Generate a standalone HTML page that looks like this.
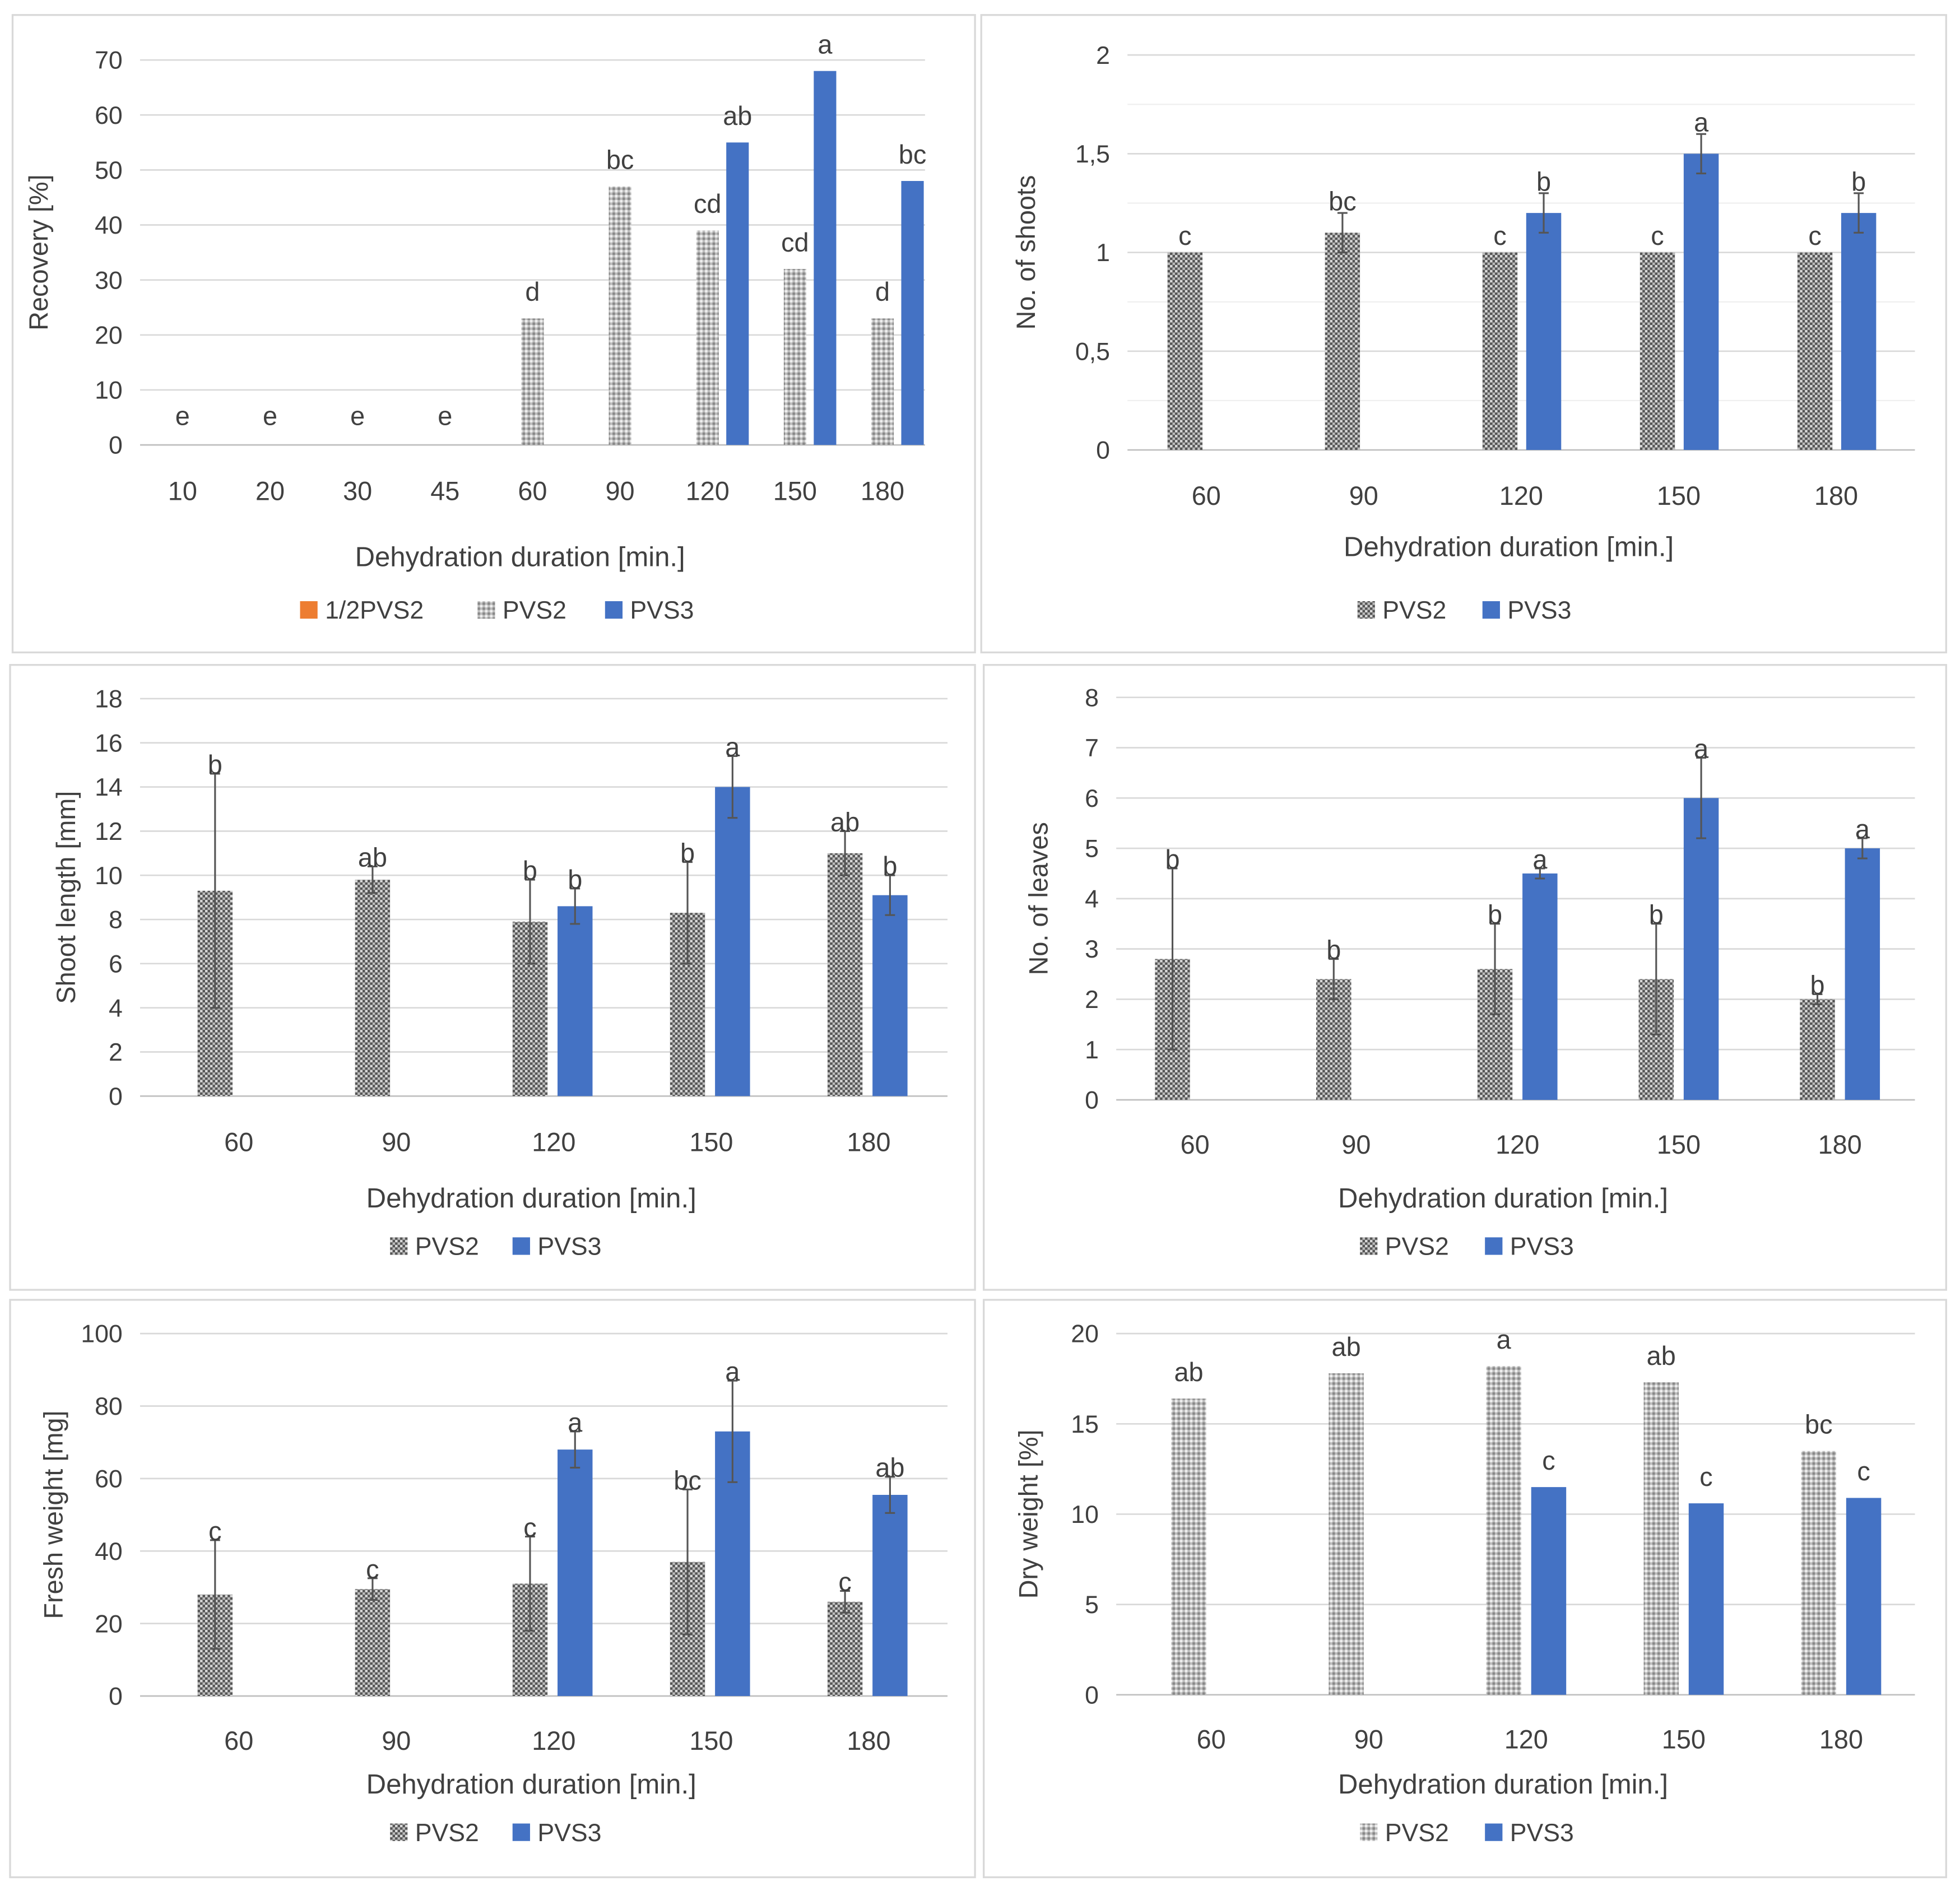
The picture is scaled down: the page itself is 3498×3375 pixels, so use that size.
<!DOCTYPE html>
<html><head><meta charset="utf-8"><style>
html,body{margin:0;padding:0;background:#fff}
svg{display:block}
text{font-family:"Liberation Sans",sans-serif;fill:#404040}
</style></head><body>
<svg id="svg" width="3498" height="3375" viewBox="0 0 1568 1513" xmlns="http://www.w3.org/2000/svg">
<defs>
<pattern id="pd" width="4" height="4" patternUnits="userSpaceOnUse"><rect width="4" height="4" fill="#555"/><rect width="2" height="2" fill="#d8d8d8"/><rect x="2" y="2" width="2" height="2" fill="#bbb"/></pattern>
<pattern id="pl" width="4" height="4" patternUnits="userSpaceOnUse"><rect width="4" height="4" fill="#bdbdbd"/><rect width="2" height="2" fill="#eee"/><rect x="2" y="2" width="2" height="2" fill="#888"/></pattern>
</defs>
</svg>
<script>
const recCats=["10","20","30","45","60","90","120","150","180"];
const recPVS2=[null,null,null,null,23,47,39,32,23];
const recPVS3=[null,null,null,null,null,null,55,68,48];
const recL2=["e","e","e","e","d","bc","cd","cd","d"];
const recL3=["","","","","","","ab","a","bc"];
const recTicks=[0,10,20,30,40,50,60,70];

const cats5=["60","90","120","150","180"];
const shootPVS2=[1,1.1,1,1,1];
const shootPVS2Err=[0,0.1,0,0,0];
const shootPVS3=[null,null,1.2,1.5,1.2];
const shootPVS3Err=[0,0,0.1,0.1,0.1];
const shootL2=["c","bc","c","c","c"];
const shootL3=["","","b","a","b"];
const shootTicks=[0,0.5,1,1.5,2];

const lenPVS2=[9.3,9.8,7.9,8.3,11];
const lenPVS2Err=[5.3,0.6,1.9,2.3,1];
const lenPVS3=[null,null,8.6,14,9.1];
const lenPVS3Err=[0,0,0.8,1.4,0.9];
const lenL2=["b","ab","b","b","ab"];
const lenL3=["","","b","a","b"];
const lenTicks=[0,2,4,6,8,10,12,14,16,18];

const leafPVS2=[2.8,2.4,2.6,2.4,2];
const leafPVS2Err=[1.8,0.4,0.9,1.1,0.1];
const leafPVS3=[null,null,4.5,6,5];
const leafPVS3Err=[0,0,0.1,0.8,0.2];
const leafL2=["b","b","b","b","b"];
const leafL3=["","","a","a","a"];
const leafTicks=[0,1,2,3,4,5,6,7,8];

const fwPVS2=[28,29.5,31,37,26];
const fwPVS2Err=[15,3,13,20,3];
const fwPVS3=[null,null,68,73,55.5];
const fwPVS3Err=[0,0,5,14,5];
const fwL2=["c","c","c","bc","c"];
const fwL3=["","","a","a","ab"];
const fwTicks=[0,20,40,60,80,100];

const dwPVS2=[16.4,17.8,18.2,17.3,13.5];
const dwPVS3=[null,null,11.5,10.6,10.9];
const dwL2=["ab","ab","a","ab","bc"];
const dwL3=["","","c","c","c"];
const dwTicks=[0,5,10,15,20];

const svg=document.getElementById('svg');
const NS="http://www.w3.org/2000/svg";
function mk(tag,attrs,parent){const e=document.createElementNS(NS,tag);for(const k in attrs)e.setAttribute(k,attrs[k]);(parent||svg).appendChild(e);return e;}
function tx(x,y,s,size,parent,anchor,rot){const e=mk('text',{x:x,y:y,'font-size':size,'text-anchor':anchor||'middle'},parent);if(rot)e.setAttribute('transform','rotate(-90 '+x+' '+y+')');e.textContent=s;return e;}

function chart(o){
  const g=mk('g',{});
  
  
  const box=mk('rect',{x:o.bx,y:o.by,width:o.bw,height:o.bh,fill:'none',stroke:'#d9d9d9','stroke-width':1.5},g);
  
  
  const tmax=o.ticks[o.ticks.length-1];
  const Y=v=>o.y0+(o.yT-o.y0)*v/tmax;
  const X=i=>o.c0+o.step*i;
  const gap=o.gap||6;
  if(o.minor){for(let i=0;i<o.ticks.length-1;i++){const v=(o.ticks[i]+o.ticks[i+1])/2;const l=mk('line',{x1:o.gx0,x2:o.gx1,y1:Y(v),y2:Y(v),stroke:'#efefef','stroke-width':1},g);}}
  o.ticks.forEach(t=>{
    const l=mk('line',{x1:o.gx0,x2:o.gx1,y1:Y(t),y2:Y(t),stroke:t===0?'#bfbfbf':'#d9d9d9','stroke-width':1.2},g);
    
    
    const lab=tx(o.gx0-14,Y(t)+7,o.fmt?o.fmt(t):String(t),20,g,'end');
    
    
  });
  o.cats.forEach((c,i)=>{
    const lab=tx(X(i),o.tickY,c,21,g);
    
    
  });
  const series=[{v:o.s2,e:o.e2,l:o.l2,off:o.off2,fill:o.pat},{v:o.s3,e:o.e3,l:o.l3,off:o.off3,fill:'#4472c4'}];
  series.forEach((s,si)=>{
    s.v.forEach((v,i)=>{
      const cx=X(i)+s.off;
      if(v!==null){
        const r=mk('rect',{x:cx-o.bw2/2,y:Y(v),width:o.bw2,height:o.y0-Y(v),fill:s.fill},g);
        
        
        let top=Y(v);
        if(s.e&&s.e[i]>0){
          const hi=Y(v+s.e[i]),lo=Y(Math.max(0,v-s.e[i]));
          const eb=mk('path',{d:`M${cx} ${lo}V${hi}M${cx-4} ${hi}H${cx+4}M${cx-4} ${lo}H${cx+4}`,stroke:'#555','stroke-width':1.4,fill:'none'},g);
          
          
          top=hi+4;
        }
        if(s.l[i]){const t=tx(cx,top-gap,s.l[i],21,g);}
      } else if(s.l[i]){
        const t=tx(cx,o.y0-16,s.l[i],21,g);
      }
    });
  });
  const xt=tx((o.gx0+o.gx1)/2-10,o.titleY,'Dehydration duration [min.]',22,g);
  
  
  const yt=tx(o.ytx,(o.y0+o.yT)/2,o.ytitle,21,g,'middle',true);
  
  
  o.legend.forEach(L=>{
    const sw=mk('rect',{x:L.x,y:o.legY-8,width:14,height:14,fill:L.fill},g);
    
    
    const t=tx(L.x+20,o.legY+6,L.t,20,g,'start');
    
    
  });
}
const comma=t=>String(t).replace('.',',');
chart({name:'recovery-chart',bx:10,by:12,bw:770,bh:510,y0:356,yT:48,gx0:112,gx1:740,c0:146,step:70,cats:recCats,ticks:recTicks,gap:14,
  s2:recPVS2,e2:null,l2:recL2,off2:0,s3:recPVS3,e3:null,l3:recL3,off3:24,bw2:18,pat:'url(#pl)',tickY:400,titleY:453,ytx:38,ytitle:'Recovery [%]',legY:489,
  legend:[{x:240,fill:'#ed7d31',t:'1/2PVS2'},{x:382,fill:'url(#pl)',t:'PVS2'},{x:484,fill:'#4472c4',t:'PVS3'}]});
chart({name:'shoots-chart',bx:785,by:12,bw:772,bh:510,y0:360,yT:44,gx0:902,gx1:1532,c0:965,step:126,cats:cats5,ticks:shootTicks,fmt:comma,minor:true,gap:6,
  s2:shootPVS2,e2:shootPVS2Err,l2:shootL2,off2:-17,s3:shootPVS3,e3:shootPVS3Err,l3:shootL3,off3:18,bw2:28,pat:'url(#pd)',tickY:404,titleY:445,ytx:828,ytitle:'No. of shoots',legY:489,
  legend:[{x:1086,fill:'url(#pd)',t:'PVS2'},{x:1186,fill:'#4472c4',t:'PVS3'}]});
chart({name:'shoot-length-chart',bx:8,by:532,bw:772,bh:500,y0:877,yT:559,gx0:112,gx1:758,c0:191,step:126,cats:cats5,ticks:lenTicks,gap:4,
  s2:lenPVS2,e2:lenPVS2Err,l2:lenL2,off2:-19,s3:lenPVS3,e3:lenPVS3Err,l3:lenL3,off3:17,bw2:28,pat:'url(#pd)',tickY:921,titleY:966,ytx:60,ytitle:'Shoot length [mm]',legY:998,
  legend:[{x:312,fill:'url(#pd)',t:'PVS2'},{x:410,fill:'#4472c4',t:'PVS3'}]});
chart({name:'leaves-chart',bx:787,by:532,bw:770,bh:500,y0:880,yT:558,gx0:893,gx1:1532,c0:956,step:129,cats:cats5,ticks:leafTicks,gap:4,
  s2:leafPVS2,e2:leafPVS2Err,l2:leafL2,off2:-18,s3:leafPVS3,e3:leafPVS3Err,l3:leafL3,off3:18,bw2:28,pat:'url(#pd)',tickY:923,titleY:966,ytx:838,ytitle:'No. of leaves',legY:998,
  legend:[{x:1088,fill:'url(#pd)',t:'PVS2'},{x:1188,fill:'#4472c4',t:'PVS3'}]});
chart({name:'fresh-weight-chart',bx:8,by:1040,bw:772,bh:462,y0:1357,yT:1067,gx0:112,gx1:758,c0:191,step:126,cats:cats5,ticks:fwTicks,gap:4,
  s2:fwPVS2,e2:fwPVS2Err,l2:fwL2,off2:-19,s3:fwPVS3,e3:fwPVS3Err,l3:fwL3,off3:17,bw2:28,pat:'url(#pd)',tickY:1400,titleY:1435,ytx:50,ytitle:'Fresh weight [mg]',legY:1467,
  legend:[{x:312,fill:'url(#pd)',t:'PVS2'},{x:410,fill:'#4472c4',t:'PVS3'}]});
chart({name:'dry-weight-chart',bx:787,by:1040,bw:770,bh:462,y0:1356,yT:1067,gx0:893,gx1:1532,c0:969,step:126,cats:cats5,ticks:dwTicks,gap:14,
  s2:dwPVS2,e2:null,l2:dwL2,off2:-18,s3:dwPVS3,e3:null,l3:dwL3,off3:18,bw2:28,pat:'url(#pl)',tickY:1399,titleY:1435,ytx:830,ytitle:'Dry weight [%]',legY:1467,
  legend:[{x:1088,fill:'url(#pl)',t:'PVS2'},{x:1188,fill:'#4472c4',t:'PVS3'}]});
</script>
</body></html>
